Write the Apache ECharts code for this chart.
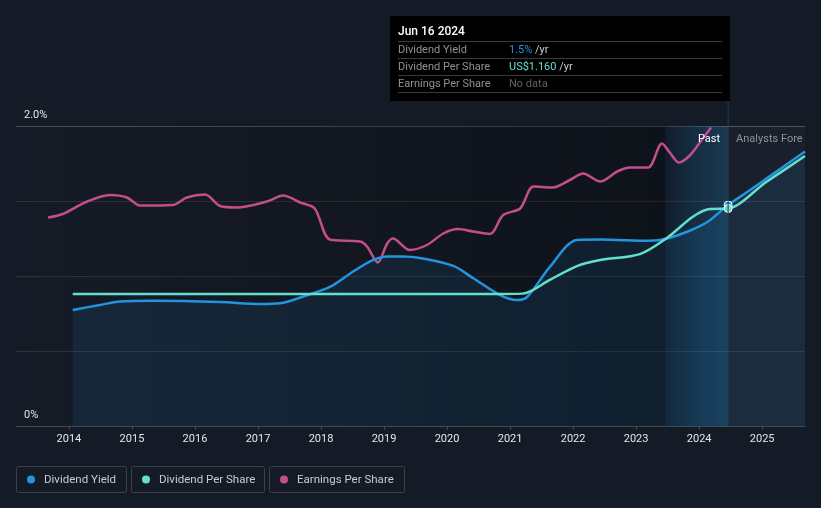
<!DOCTYPE html>
<html><head><meta charset="utf-8">
<script src="https://cdn.jsdelivr.net/npm/echarts@6/dist/echarts.min.js"></script>
<style>html,body{margin:0;padding:0;background:#151b26;}#c{width:821px;height:508px;}</style>
</head><body><div id="c"></div><script>
// ---- data ----
const yearTicks = [2014,2015,2016,2017,2018,2019,2020,2021,2022,2023,2024,2025];
const xMin = 2013.16, xMax = 2025.68;
const todayX = 2024.46;
const pastBandStart = 2023.46;

const yieldYears  = [2014.06,2014.49,2014.81,2015.33,2016.40,2017.03,2017.35,2017.71,2018.14,2018.51,2018.83,2019.05,2019.30,2019.57,2020.10,2020.41,2020.84,2021.11,2021.27,2021.63,2022.06,2022.43,2023.22,2023.49,2023.81,2024.13,2024.46,2024.81,2025.68];
const yieldValues = [0.773,0.807,0.83,0.835,0.827,0.813,0.818,0.862,0.927,1.03,1.107,1.13,1.13,1.12,1.067,0.987,0.873,0.84,0.86,1.06,1.24,1.243,1.235,1.25,1.295,1.36,1.473,1.573,1.83];

const dpsYears  = [2014.06,2015.0,2016.0,2017.0,2018.0,2019.0,2020.0,2020.8,2021.2,2021.63,2022.06,2022.43,2023.06,2023.49,2023.90,2024.17,2024.46,2025.06,2025.68];
const dpsValues = [0.704,0.704,0.704,0.704,0.704,0.704,0.704,0.704,0.706,0.779,0.853,0.885,0.917,1.003,1.116,1.157,1.16,1.30,1.44];

const epsYears  = [2013.67,2013.90,2014.29,2014.65,2014.92,2015.13,2015.65,2015.87,2016.16,2016.40,2016.67,2017.14,2017.40,2017.67,2017.90,2018.14,2018.62,2018.73,2018.90,2019.05,2019.14,2019.41,2019.68,2019.94,2020.17,2020.41,2020.68,2020.89,2021.16,2021.37,2021.68,2021.95,2022.16,2022.43,2022.70,2022.90,2023.19,2023.41,2023.54,2023.68,2023.86,2024.04,2024.19];
const epsValues = [4.17,4.24,4.49,4.62,4.57,4.41,4.42,4.57,4.63,4.40,4.37,4.49,4.61,4.47,4.35,3.73,3.69,3.59,3.27,3.65,3.75,3.52,3.62,3.85,3.94,3.89,3.84,4.22,4.35,4.79,4.77,4.92,5.05,4.89,5.09,5.17,5.17,5.65,5.46,5.27,5.42,5.72,5.97];

const seriesNames = ['Dividend Yield','Dividend Per Share','Earnings Per Share'];
const colors = ['#2394df','#62e0cd','#c44d8c'];

const zip = (a,b)=>a.map((v,i)=>[v,b[i]]);
const todayYield = yieldValues[yieldYears.indexOf(todayX)];
const todayDps = dpsValues[dpsYears.indexOf(todayX)];

const chart = echarts.init(document.getElementById('c'));
const font = 'Roboto, "Noto Sans", sans-serif';

const option = {
  backgroundColor: '#151b26',
  animation: false,
  textStyle: {fontFamily: font},
  grid: {left: 16, right: 16, top: 126, bottom: 82},
  xAxis: {
    type: 'value', min: xMin, max: xMax,
    axisLine: {show: true, lineStyle: {color: '#434951', width: 1}},
    axisTick: {show: true, length: 4, customValues: yearTicks, lineStyle: {color: '#434951'}},
    axisLabel: {customValues: yearTicks, color: '#e4e6e8', fontSize: 11, margin: 8, formatter: v => String(Math.round(v))},
    splitLine: {show: false}
  },
  yAxis: [
    {type: 'value', min: 0, max: 2, interval: 0.5,
     axisLine: {show: false}, axisTick: {show: false},
     axisLabel: {inside: true, margin: 8, color: '#e4e6e8', fontSize: 11, verticalAlign: 'bottom', padding: [0,0,5,0],
       formatter: v => v === 2 ? '2.0%' : (v === 0 ? '0%' : '')},
     splitLine: {show: true, lineStyle: {color: ['#2e343d','#2e343d','#2e343d','#2e343d','#4a4e55'], width: 1}}
    },
    {type: 'value', min: 0, max: 1.6, show: false},
    {type: 'value', min: 0, max: 6, show: false}
  ],
  series: [
    {
      type: 'line', name: 'bg', z: 1, data: [[xMin, 0]], symbol: 'none', lineStyle: {opacity: 0}, silent: true,
      markArea: {silent: true, data: [
        [{xAxis: xMin, yAxis: 0, itemStyle: {color: new echarts.graphic.LinearGradient(0,0,1,0,[{offset:0,color:'rgba(0,0,0,0)'},{offset:1,color:'rgba(0,0,0,0.33)'}])}}, {xAxis: pastBandStart, yAxis: 2}],
        [{xAxis: pastBandStart, yAxis: 0, itemStyle: {color: new echarts.graphic.LinearGradient(0,0,1,0,[{offset:0,color:'rgba(10,30,50,0.35)'},{offset:1,color:'rgba(35,148,223,0.24)'}])}}, {xAxis: todayX, yAxis: 2}],
        [{xAxis: todayX, yAxis: 0, itemStyle: {color: 'rgba(255,255,255,0.025)'}}, {xAxis: xMax, yAxis: 2}]
      ]}
    },
    {
      type: 'line', name: seriesNames[0], yAxisIndex: 0, z: 3, smooth: 0.3, symbol: 'none',
      data: zip(yieldYears, yieldValues),
      lineStyle: {color: colors[0], width: 2.5},
      areaStyle: {color: 'rgba(35,148,223,0.15)'},
      markPoint: {symbol: 'circle', symbolSize: 8, label: {show: false},
        itemStyle: {color: colors[0], borderColor: '#ffffff', borderWidth: 1},
        data: [{coord: [todayX, todayYield]}]}
    },
    {
      type: 'line', name: seriesNames[1], yAxisIndex: 1, z: 4, smooth: 0.3, symbol: 'none',
      data: zip(dpsYears, dpsValues),
      lineStyle: {color: colors[1], width: 2.5},
      markPoint: {symbol: 'circle', symbolSize: 8, label: {show: false},
        itemStyle: {color: colors[1], borderColor: '#ffffff', borderWidth: 1},
        data: [{coord: [todayX, todayDps]}]}
    },
    {
      type: 'line', name: seriesNames[2], yAxisIndex: 2, z: 2, smooth: 0.3, symbol: 'none',
      data: zip(epsYears, epsValues),
      lineStyle: {color: colors[2], width: 2.5}
    }
  ]
};
chart.setOption(option);

// overlay graphics (tooltip, labels, legend)
const tx = chart.convertToPixel({xAxisIndex: 0}, todayX);
const gTop = 126, gBottom = 426;
const tipX = 390, tipY = 16, tipW = 340, tipH = 85;
const rowLines = [41.5, 58.5, 75.5, 92.5];
const rowY = [50.5, 67.5, 84.5];
const labelColor = '#8d9299';
const g = [];
g.push({type: 'line', shape: {x1: tx, y1: tipY + tipH, x2: tx, y2: gBottom}, style: {stroke: '#2b3a4b', lineWidth: 1}, z: 50});
g.push({type: 'rect', shape: {x: tipX, y: tipY, width: tipW, height: tipH}, style: {fill: '#000000'}, z: 60});
g.push({type: 'text', x: tipX + 8, y: 32, style: {text: 'Jun 16 2024', fill: '#ffffff', font: '500 12px ' + font, verticalAlign: 'middle'}, z: 61});
rowLines.forEach(y => g.push({type: 'line', shape: {x1: tipX + 8, y1: y, x2: tipX + tipW - 8, y2: y}, style: {stroke: '#3a3a3a', lineWidth: 1}, z: 61}));
const rowLabels = ['Dividend Yield', 'Dividend Per Share', 'Earnings Per Share'];
rowLabels.forEach((t, i) => g.push({type: 'text', x: tipX + 8, y: rowY[i], style: {text: t, fill: labelColor, font: '11px ' + font, verticalAlign: 'middle'}, z: 61}));
const rowVals = [
  '{a|' + todayYield.toFixed(1) + '%}{w| /yr}',
  '{b|US$' + todayDps.toFixed(3) + '}{w| /yr}',
  '{n|No data}'
];
rowVals.forEach((t, i) => g.push({type: 'text', x: 509, y: rowY[i], style: {text: t, verticalAlign: 'middle', font: '11px ' + font,
  rich: {a: {fill: colors[0], font: '11px ' + font}, b: {fill: colors[1], font: '11px ' + font}, w: {fill: '#c8ccd0', font: '11px ' + font}, n: {fill: '#5c6168', font: '11px ' + font}}}, z: 61}));
g.push({type: 'text', x: tx - 8, y: 139, style: {text: 'Past', fill: '#ffffff', font: '11px ' + font, align: 'right', verticalAlign: 'middle'}, z: 55});
g.push({type: 'text', x: tx + 8, y: 139, style: {text: 'Analysts Fore', fill: '#8d9299', font: '11px ' + font, align: 'left', verticalAlign: 'middle'}, z: 55});

// legend
const boxes = [{x: 16, w: 110}, {x: 131, w: 133}, {x: 269, w: 135}];
seriesNames.forEach((n, i) => {
  const b = boxes[i];
  g.push({type: 'rect', shape: {x: b.x + 0.5, y: 466.5, width: b.w, height: 26, r: 2}, style: {fill: 'transparent', stroke: '#3b4149', lineWidth: 1}, z: 50});
  g.push({type: 'circle', shape: {cx: b.x + 15, cy: 479.5, r: 4}, style: {fill: colors[i]}, z: 51});
  g.push({type: 'text', x: b.x + 28, y: 480, style: {text: n, fill: '#c8ccd0', font: '11.5px ' + font, verticalAlign: 'middle'}, z: 51});
});
chart.setOption({graphic: g});
</script></body></html>
